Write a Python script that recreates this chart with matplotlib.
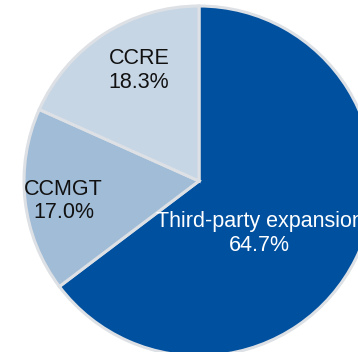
import numpy as np
import matplotlib.pyplot as plt

labels = ["Third-party expansion", "CCMGT", "CCRE"]
shares = [64.7, 17.0, 18.3]
colors = ["#0050a0", "#a0bcd6", "#c7d6e5"]
text_colors = ["white", "#111111", "#111111"]
# how far out from the centre each label sits (fraction of radius), and angle nudge
label_r = [0.45, 0.78, 0.73]
label_dtheta = [-13, 1, -5]

plt.rcParams["font.family"] = ["Liberation Sans", "DejaVu Sans"]

fig = plt.figure(figsize=(3.58, 3.52), dpi=100)
ax = fig.add_axes([0, 0, 1, 1])

cx, cy, R = 199, 171, 175
wedges, _ = ax.pie(shares, colors=colors, startangle=90, counterclock=False,
                   center=(cx, cy), radius=R, frame=True,
                   wedgeprops=dict(edgecolor="#dde1e5", linewidth=2.2))
ax.set_xlim(0, 358)
ax.set_ylim(0, 352)
ax.set_aspect("equal")
ax.axis("off")

for w, lab, val, tc, rf, dt in zip(wedges, labels, shares, text_colors, label_r, label_dtheta):
    mid = np.deg2rad((w.theta1 + w.theta2) / 2 + dt)
    x = cx + rf * R * np.cos(mid)
    y = cy + rf * R * np.sin(mid) - 2.5
    ax.text(x, y, f"{lab}\n{val:.1f}%", ha="center", va="center",
            fontsize=15.5, color=tc, linespacing=1.15)

fig.savefig("out.png", dpi=100, facecolor="white")
